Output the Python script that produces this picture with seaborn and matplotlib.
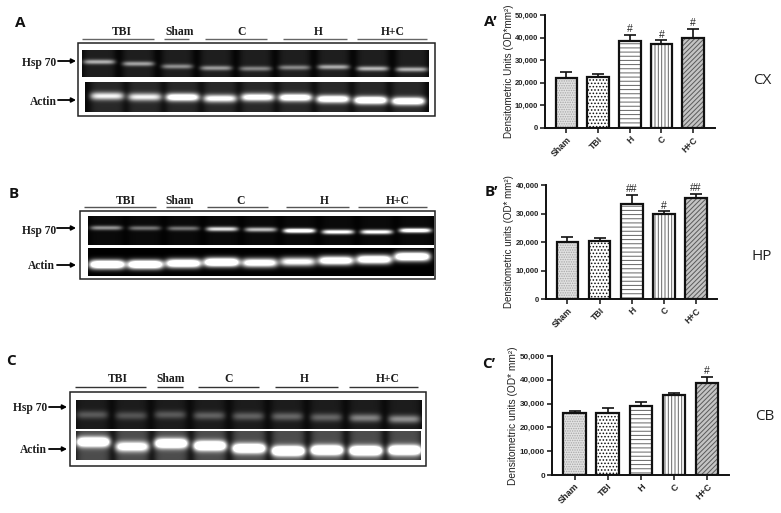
import numpy as np
import matplotlib
matplotlib.use("Agg")
import matplotlib.pyplot as plt
from matplotlib.patches import Rectangle
import seaborn as sns

sns.set_style("white")
W, H = 781, 513
plt.rcParams['hatch.linewidth'] = 0.7
plt.rcParams['font.family'] = ['Liberation Sans', 'DejaVu Sans']

# bar chart data
groups = ["Sham", "TBI", "H", "C", "H+C"]
cx_mean = [22000, 22500, 38500, 37000, 40000]
cx_top = [24800, 23700, 41300, 38800, 44000]
cx_marks = ["", "", "#", "#", "#"]
hp_mean = [20000, 20500, 33500, 30000, 35500]
hp_top = [21900, 21300, 36600, 30800, 37000]
hp_marks = ["", "", "##", "#", "##"]
cb_mean = [26000, 26000, 29000, 33500, 38500]
cb_top = [26900, 28000, 30600, 34300, 41300]
cb_marks = ["", "", "", "", "#"]
cx_ticks = [0, 10000, 20000, 30000, 40000, 50000]
hp_ticks = [0, 10000, 20000, 30000, 40000]
cb_ticks = [0, 10000, 20000, 30000, 40000, 50000]

# gel band data: brightness per lane and band row (fraction of gel height)
a_hsp_b = [.50, .45, .38, .42, .35, .36, .48, .52, .50]
a_hsp_r = [.43, .50, .60, .66, .68, .64, .62, .68, .71]
a_act_b = [.62, .62, .88, .72, .80, .88, .88, 1.0, .95]
a_act_r = [.46, .49, .50, .54, .50, .51, .56, .60, .63]
b_hsp_b = [.45, .35, .35, .72, .60, 1.0, .85, .85, .95]
b_hsp_r = [.40, .41, .42, .44, .46, .50, .54, .54, .49]
b_act_b = [1.0, 1.0, .92, 1.0, .80, .68, .85, .88, .97]
b_act_r = [.58, .58, .54, .50, .52, .48, .44, .40, .30]
c_hsp_b = [.24, .22, .24, .27, .27, .29, .29, .40, .45]
c_hsp_r = [.50, .53, .50, .53, .55, .56, .59, .61, .65]
c_act_b = [.90, .68, .88, .92, .88, 1.0, .97, .97, .97]
c_act_r = [.37, .53, .42, .50, .59, .68, .65, .67, .65]

fig = plt.figure(figsize=(W / 100, H / 100), dpi=100, facecolor="white")


def add_axes(x0, y0, x1, y1):
    return fig.add_axes([x0 / W, 1 - y1 / H, (x1 - x0) / W, (y1 - y0) / H])


ov = fig.add_axes([0, 0, 1, 1], zorder=5)
ov.set_xlim(0, W)
ov.set_ylim(H, 0)
ov.axis("off")
ov.patch.set_alpha(0)


def gel(box, bright, rows, lane0, lane1, wx, wy, bg, smear, gain=1.0):
    x0, y0, x1, y1 = box
    nx, ny = int(x1 - x0) * 2, int(y1 - y0) * 2
    X, Y = np.meshgrid((np.arange(nx) + .5) / 2 + x0, (np.arange(ny) + .5) / (ny))
    img = np.full(X.shape, bg, dtype=float)
    for xc, b, r in zip(np.linspace(lane0, lane1, len(bright)), bright, rows):
        prof = np.exp(-((X - xc) / wx) ** 6)
        img += smear * prof
        img += gain * b * prof * np.exp(-((Y - r) / wy) ** 2)
    ax = add_axes(*box)
    sns.heatmap(np.clip(img, 0, 1), ax=ax, cmap="gray", vmin=0, vmax=1, cbar=False,
                xticklabels=False, yticklabels=False, rasterized=True)
    ax.set_xlabel("")
    ax.set_ylabel("")


def label_set(labels, lines, y_txt, y_line, line_color):
    for name, xc, (a, b) in zip(["TBI", "Sham", "C", "H", "H+C"], labels, lines):
        ov.text(xc, y_txt, name, ha="center", va="center", family="Liberation Serif",
                weight="bold", fontsize=8.4, color="#1c1c1c")
        ov.plot([a, b], [y_line, y_line], color=line_color, lw=1.0, solid_capstyle="butt")


def arrow(a, b, y):
    ov.annotate("", xy=(b, y), xytext=(a, y),
                arrowprops=dict(arrowstyle="-|>,head_width=0.13,head_length=0.25", lw=1.3,
                                color="black", shrinkA=0, shrinkB=0))


def row_label(text, xr, y):
    ov.text(xr, y, text, ha="right", va="center", family="Liberation Serif",
            weight="bold", fontsize=8.3, color="#1c1c1c")


def frame(x0, y0, x1, y1):
    ov.add_patch(Rectangle((x0, y0), x1 - x0, y1 - y0, fill=False, ec="#222222", lw=1.1))


# Panel A gels
frame(78, 43, 435, 116)
gel((82, 50, 429, 77), a_hsp_b, a_hsp_r, 99, 412, 16, .09, .02, .10, 1.15)
gel((85, 82, 429, 112), a_act_b, a_act_r, 107, 408, 17, .13, .03, .13, 1.3)
label_set([122, 180, 242, 318, 393], [(82, 154), (164, 189), (205, 267), (283, 347), (357, 427)], 32, 39, "#666666")
row_label("Hsp 70", 56, 63)
row_label("Actin", 57, 102)
arrow(58, 76, 61)
arrow(58, 76, 100)

# Panel B gels
frame(80, 211, 435, 279)
gel((88, 216, 434, 245), b_hsp_b, b_hsp_r, 106, 415, 16, .08, .01, .03, 1.2)
gel((88, 248, 434, 276), b_act_b, b_act_r, 107, 412, 18, .16, .0, .0, 1.6)
label_set([126, 180, 241, 324, 398], [(84, 156), (166, 190), (207, 268), (286, 349), (358, 427)], 201, 207, "#555555")
row_label("Hsp 70", 56, 231)
row_label("Actin", 55, 266)
arrow(57, 76, 228)
arrow(57, 76, 265)

# Panel C gels
frame(70, 392, 426, 466)
gel((76, 400, 422, 429), c_hsp_b, c_hsp_r, 92, 404, 16, .14, .04, .07)
gel((76, 431, 421, 460), c_act_b, c_act_r, 93, 405, 17, .17, .05, .25, 1.5)
label_set([118, 171, 229, 304, 388], [(75, 146), (157, 183), (198, 259), (275, 338), (349, 418)], 379, 387, "#333333")
row_label("Hsp 70", 47, 408)
row_label("Actin", 47, 450)
arrow(49, 67, 407)
arrow(49, 67, 449)

# Panel letters and region names
for txt, x, y in [("A", 20, 23), ("B", 14, 194), ("C", 11, 361), ("A’", 490, 22), ("B’", 491, 192), ("C’", 489, 364)]:
    ov.text(x, y, txt, ha="center", va="center", family="Open Sans", weight="bold", fontsize=11, color="#111111")
for txt, x, y in [("CX", 762, 80), ("HP", 762, 256), ("CB", 765, 417)]:
    ov.text(x, y, txt, ha="center", va="center", family="Open Sans", fontsize=11, color="#222222")


def bars(box, means, tops, marks, ticks, ylabel, xlim, ylab_x, ylab_y, fs, yfs):
    ax = add_axes(*box)
    sns.barplot(x=groups, y=means, ax=ax, width=0.68, color="white", saturation=1,
                linewidth=0, zorder=2)
    styles = [("#e2e2e2", "#a8a8a8", "......."), ("white", "#111111", "....."),
              ("white", "#666666", "----"), ("white", "#666666", "|||||"),
              ("#c4c4c4", "#5a5a5a", "///////")]
    for p, (fc, ec, h) in zip(list(ax.patches), styles):
        p.set_facecolor(fc)
        p.set_edgecolor(ec)
        p.set_hatch(h)
        p.set_linewidth(0)
        ax.add_patch(Rectangle(p.get_xy(), p.get_width(), p.get_height(), fill=False,
                               ec="#111111", lw=1.6, zorder=3))
    low = [0] * len(means)
    up = [t - m for t, m in zip(tops, means)]
    ax.errorbar(range(len(means)), means, yerr=[low, up], fmt="none", ecolor="#111111",
                elinewidth=1.2, capsize=4, capthick=1.2, zorder=1)
    for i, (t, m) in enumerate(zip(tops, marks)):
        if m:
            ax.text(i, t + ticks[-1] * 0.006, m, ha="center", va="bottom", fontsize=7.5, color="#222222")
    ax.set_xlim(*xlim)
    ax.set_ylim(0, ticks[-1])
    ax.set_yticks(ticks)
    ax.set_yticklabels([f"{t:,}" for t in ticks], fontsize=fs, weight="bold", color="#222222")
    ax.set_xticks(range(len(groups)))
    ax.set_xticklabels(groups, rotation=45, ha="right", rotation_mode="anchor", fontsize=fs + .8,
                       weight="bold", color="#222222")
    ax.tick_params(axis="both", length=3.5, width=1.1, color="#111111", left=True, bottom=True, pad=1.5)
    sns.despine(ax=ax)
    for s in ("left", "bottom"):
        ax.spines[s].set_linewidth(1.4)
        ax.spines[s].set_color("#111111")
    ax.patch.set_alpha(0)
    ov.text(ylab_x, ylab_y, ylabel, rotation=90, ha="center", va="center",
            fontsize=yfs, color="#222222")


bars((545, 15, 715, 128), cx_mean, cx_top, cx_marks, cx_ticks, "Densitometric Units (OD*mm²)", (-.676, 4.69), 509, 71, 5.5, 7.1)
bars((546, 185, 717, 299), hp_mean, hp_top, hp_marks, hp_ticks, "Densitometric units (OD* mm²)", (-.67, 4.66), 509, 242, 5.5, 7.05)
bars((552, 356, 729, 475), cb_mean, cb_top, cb_marks, cb_ticks, "Densitometric units (OD* mm²)", (-.68, 4.66), 513, 416, 5.8, 7.25)

fig.savefig("out.png", dpi=100, facecolor="white")
